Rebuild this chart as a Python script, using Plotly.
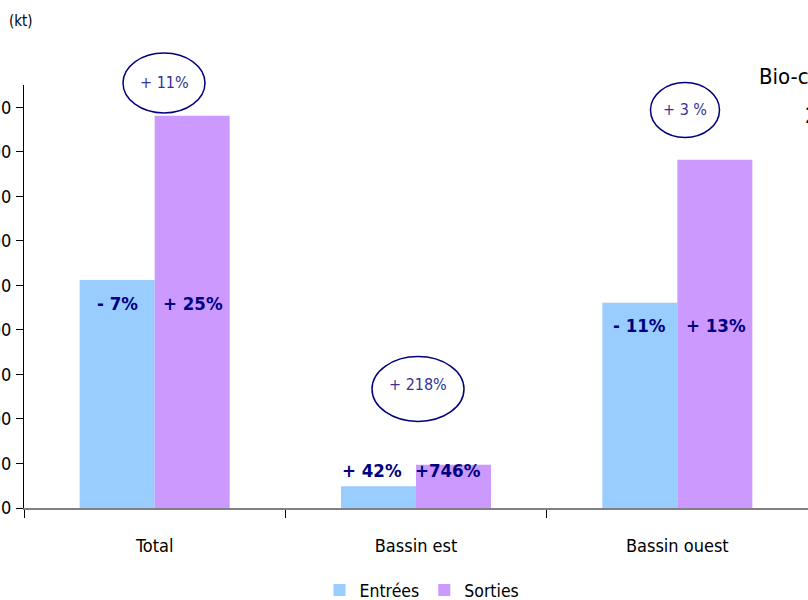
import plotly.graph_objects as go

categories = ["Total", "Bassin est", "Bassin ouest"]
entrees = [256, 24.5, 230.5]
sorties = [440.5, 48.5, 391]
entrees_labels = ["- 7%", "+ 42%", "- 11%"]
sorties_labels = ["+ 25%", "+746%", "+ 13%"]
total_change = ["+ 11%", "+ 218%", "+ 3 %"]
y_ticks = [0, 50, 100, 150, 200, 250, 300, 350, 400, 450]

FONT = "DejaVu Sans Condensed, Liberation Sans Narrow, Arial Narrow, sans-serif"
NAVY = "#000080"
C_IN = "#99CCFF"
C_OUT = "#CC99FF"

W, H = 808, 600
ML, MR, MT, MB = 24, 0, 85, 92
pw = W - ML - MR
ph = H - MT - MB


def px_x(px):
    return (px - ML) / pw


def px_y(py):
    return (MT + ph - py) / ph


fig = go.Figure()
fig.add_trace(go.Bar(name="Entrées", x=categories, y=entrees, marker_color=C_IN, marker_line_width=0))
fig.add_trace(go.Bar(name="Sorties", x=categories, y=sorties, marker_color=C_OUT, marker_line_width=0))

ymax = 475
annotations = []
shapes = []
# value labels on bars
label_shift = [-23, 16, -23]
est_xshift = [0, -7, 0]
for i, c in enumerate(categories):
    annotations.append(dict(x=c, y=entrees[i], xref="x", yref="y", text="<b>%s</b>" % entrees_labels[i],
                            showarrow=False, xshift=-37.5 + est_xshift[i], yshift=label_shift[i],
                            xanchor="center", yanchor="middle",
                            font=dict(family=FONT, size=18.5, color=NAVY)))
    annotations.append(dict(x=c, y=entrees[i], xref="x", yref="y", text="<b>%s</b>" % sorties_labels[i],
                            showarrow=False, xshift=37.5 + est_xshift[i] + 1, yshift=label_shift[i],
                            xanchor="center", yanchor="middle",
                            font=dict(family=FONT, size=18.5, color=NAVY)))

# ellipses with total change (pixel centers / sizes), text centre
circ = [(164, 83, 82, 60, 82), (418, 389, 92, 65, 384), (685, 110, 69, 55, 110)]
for i, (cx, cy, w, h, ty) in enumerate(circ):
    shapes.append(dict(type="circle", xref="paper", yref="paper",
                       x0=px_x(cx - w / 2), x1=px_x(cx + w / 2),
                       y0=px_y(cy + h / 2), y1=px_y(cy - h / 2),
                       line=dict(color=NAVY, width=1.5), layer="above"))
    annotations.append(dict(x=px_x(cx), y=px_y(ty), xref="paper", yref="paper",
                            xanchor="center", yanchor="middle",
                            text=total_change[i], showarrow=False,
                            font=dict(family=FONT, size=16, color="#333399")))

annotations.append(dict(x=px_x(21), y=px_y(21), xref="paper", yref="paper", text="(kt)", showarrow=False,
                        xanchor="center", yanchor="middle",
                        font=dict(family=FONT, size=15, color="black")))

annotations.append(dict(x=px_x(757), y=px_y(77), xref="paper", yref="paper",
                        xanchor="left", yanchor="middle",
                        text="Bio-carburants", showarrow=False,
                        font=dict(family=FONT, size=22, color="black")))
annotations.append(dict(x=px_x(803), y=px_y(115), xref="paper", yref="paper",
                        xanchor="left", yanchor="middle",
                        text="2007", showarrow=False,
                        font=dict(family=FONT, size=22, color="black")))

fig.update_layout(
    width=W, height=H,
    template="none",
    margin=dict(l=ML, r=MR, t=MT, b=MB, pad=0),
    paper_bgcolor="white", plot_bgcolor="white",
    barmode="group", bargap=0.426, bargroupgap=0,
    font=dict(family=FONT, size=17.5, color="black"),
    showlegend=True,
    legend=dict(orientation="h", xref="container", yref="container",
                x=422 / W, xanchor="center", y=(H - 590) / H, yanchor="middle",
                font=dict(family=FONT, size=17.5, color="black"), itemwidth=30,
                traceorder="normal"),
    annotations=annotations,
    shapes=shapes,
    xaxis=dict(showline=True, linecolor="#808080", linewidth=2, ticks="outside", tickson="boundaries",
               ticklen=8, tickcolor="black", tickwidth=1, showgrid=False, automargin=False,
               ticklabelstandoff=20,
               tickfont=dict(family=FONT, size=18, color="black"), zeroline=False),
    yaxis=dict(range=[0, ymax], tickvals=y_ticks, showline=True, linecolor="black", linewidth=1,
               ticks="outside", ticklen=7, tickcolor="black", showgrid=False, zeroline=False,
               ticklabelstandoff=1,
               automargin=False, tickfont=dict(family=FONT, size=18, color="black")),
)

fig.write_html("out.html", config={"displayModeBar": False},
               post_script="document.body.style.margin='0';document.body.style.overflow='hidden';")
